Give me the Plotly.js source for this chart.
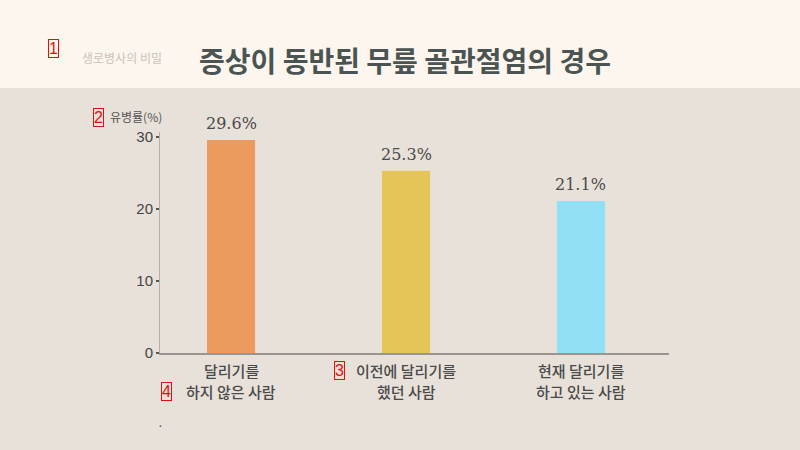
<!DOCTYPE html>
<html>
<head>
<meta charset="utf-8">
<script src="https://cdn.plot.ly/plotly-3.0.1.min.js"></script>
<style>html,body{margin:0;padding:0;background:#E8E1D9;}#chart{width:800px;height:450px;}</style>
</head>
<body>
<div id="chart"></div>
<script>
const categoryLine1 = ["달리기를", "이전에 달리기를", "현재 달리기를"];
const categoryLine2 = ["하지 않은 사람", "했던 사람", "하고 있는 사람"];
const values = [29.6, 25.3, 21.1];
const valueLabels = ["29.6%", "25.3%", "21.1%"];
const barColors = ["#EC9A5E", "#E5C557", "#92E0F5"];
const titleText = "증상이 동반된 무릎 골관절염의 경우";
const yTitle = "유병률(%)";
const yTicks = [0, 10, 20, 30];
const markerNums = ["1", "2", "3", "4"];

const W = 800, H = 450;
const px = x => x / W, py = y => 1 - y / H;

const trace = {
  type: 'bar',
  x: [0, 1, 2],
  y: values,
  marker: {color: barColors},
  width: 0.275,
  hoverinfo: 'none'
};

const annotations = values.map((v, i) => ({
  text: valueLabels[i], xref: 'x', yref: 'y', x: i, y: v,
  xanchor: 'center', yanchor: 'bottom', yshift: 5, showarrow: false,
  font: {family: 'DejaVu Serif', size: 16, color: '#4A4A4A'}
}));

const catFont = {family: 'Noto Sans CJK KR', size: 15, weight: 500, color: '#4A4A4A'};
categoryLine1.forEach((t, i) => {
  annotations.push({text: t, xref: 'x', yref: 'paper', x: i, y: py(370),
    xanchor: 'center', yanchor: 'middle', showarrow: false, font: catFont});
  annotations.push({text: categoryLine2[i], xref: 'x', yref: 'paper', x: i, y: py(391),
    xanchor: 'center', yanchor: 'middle', showarrow: false, font: catFont});
});

const markerPos = [[53, 48], [98, 117], [339, 370], [166, 391]];
markerNums.forEach((t, i) => annotations.push({
  text: t, xref: 'paper', yref: 'paper', x: px(markerPos[i][0]), y: py(markerPos[i][1]),
  xanchor: 'center', yanchor: 'middle', showarrow: false,
  font: {family: 'Liberation Sans Narrow, Liberation Sans', size: 16, color: '#E01010'},
  bordercolor: '#E01010', borderwidth: 1, borderpad: 0
}));
annotations.push({
  text: yTitle, xref: 'paper', yref: 'paper', x: px(136), y: py(116),
  xanchor: 'center', yanchor: 'middle', showarrow: false,
  font: {family: 'Noto Sans CJK KR', size: 12, color: '#555'}
});
annotations.push({
  text: "생로병사의 비밀", xref: 'paper', yref: 'paper', x: px(122), y: py(57),
  xanchor: 'center', yanchor: 'middle', showarrow: false,
  font: {family: 'Noto Sans CJK KR', size: 12, color: '#C9C2BA'}
});
annotations.push({
  text: "·", xref: 'paper', yref: 'paper', x: px(160), y: py(425),
  xanchor: 'center', yanchor: 'middle', showarrow: false,
  font: {family: 'Liberation Sans', size: 14, color: '#555'}
});

const layout = {
  width: W, height: H,
  margin: {l: 0, r: 0, t: 0, b: 0},
  paper_bgcolor: '#E8E1D9',
  plot_bgcolor: 'rgba(0,0,0,0)',
  showlegend: false,
  title: {
    text: '<b>' + titleText + '</b>', x: px(405), y: py(62), xanchor: 'center', yanchor: 'middle',
    xref: 'paper', yref: 'paper',
    font: {family: 'Noto Sans CJK KR', size: 28, color: '#4A5452'}
  },
  xaxis: {
    domain: [px(160), px(669)],
    range: [-0.406, 2.503],
    tickvals: [0, 1, 2], showticklabels: false,
    ticks: '', showgrid: false, zeroline: false,
    showline: true, linecolor: '#9A9590', linewidth: 2,
    fixedrange: true
  },
  yaxis: {
    domain: [py(353), py(132)],
    range: [0, (353 - 132) / 7.2],
    tickmode: 'array', tickvals: yTicks,
    ticks: 'outside', ticklen: 3, tickcolor: '#555', tickwidth: 2,
    showgrid: false, zeroline: false,
    showline: true, linecolor: '#B5AFA8', linewidth: 1,
    tickfont: {family: 'Liberation Sans', size: 15, color: '#444'},
    fixedrange: true
  },
  shapes: [{
    type: 'rect', xref: 'paper', yref: 'paper', x0: 0, x1: 1, y0: py(88), y1: 1,
    fillcolor: '#FCF6EE', line: {width: 0}, layer: 'below'
  }],
  annotations: annotations
};

Plotly.newPlot('chart', [trace], layout, {staticPlot: true});
</script>
</body>
</html>
